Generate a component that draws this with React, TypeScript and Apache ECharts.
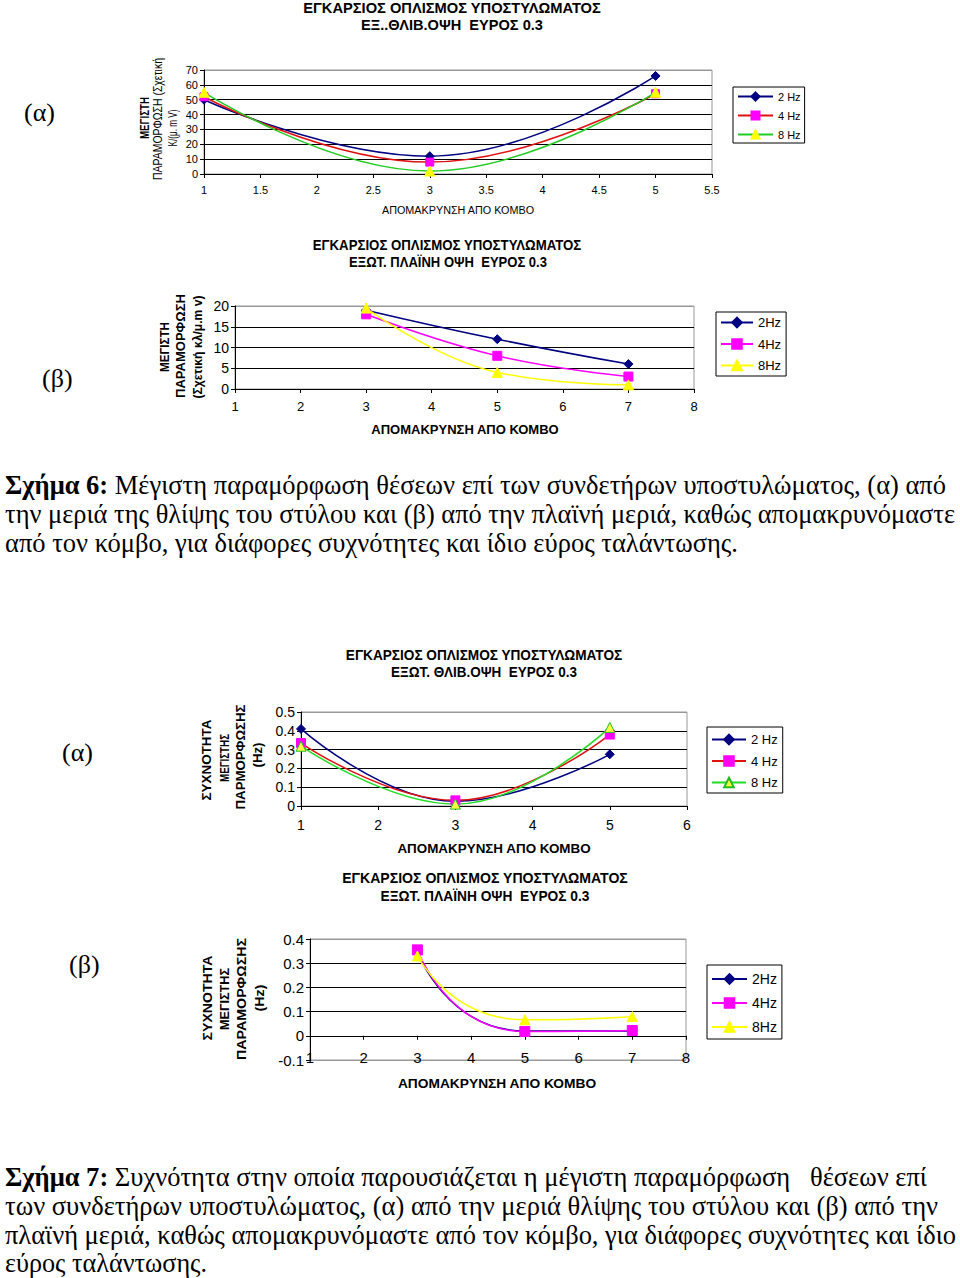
import React, { useEffect, useRef } from "react";
import * as echarts from "echarts";

// ---------------- data ----------------
const distA = [1, 3, 5];
const distB = [3, 5, 7];
const namesSp = ["2 Hz", "4 Hz", "8 Hz"];
const namesNs = ["2Hz", "4Hz", "8Hz"];

// Fig 6 (a): max deformation, compression side
const defA2 = [50, 12, 66];
const defA4 = [52, 8, 54];
const defA8 = [55, 2, 55];
// Fig 6 (b): max deformation, lateral side
const defB2 = [19, 12, 6];
const defB4 = [18, 8, 3];
const defB8 = [19.5, 4, 1];
// Fig 7 (a): frequency of max deformation, compression side
const frqA2 = [0.41, 0.025, 0.275];
const frqA4 = [0.335, 0.03, 0.38];
const frqA8 = [0.318, 0.01, 0.418];
// Fig 7 (b): frequency of max deformation, lateral side
const frqB2 = [0.345, 0.02, 0.02];
const frqB4 = [0.355, 0.018, 0.022];
const frqB8 = [0.33, 0.066, 0.08];

const titleMain = "ΕΓΚΑΡΣΙΟΣ ΟΠΛΙΣΜΟΣ ΥΠΟΣΤΥΛΩΜΑΤΟΣ";
const subA1 = "ΕΞ..ΘΛΙΒ.ΟΨΗ  ΕΥΡΟΣ 0.3";
const subB1 = "ΕΞΩΤ. ΠΛΑΪΝΗ ΟΨΗ  ΕΥΡΟΣ 0.3";
const subA2 = "ΕΞΩΤ. ΘΛΙΒ.ΟΨΗ  ΕΥΡΟΣ 0.3";
const subB2 = "ΕΞΩΤ. ΠΛΑΪΝΗ ΟΨΗ  ΕΥΡΟΣ 0.3";
const xTitle = "ΑΠΟΜΑΚΡΥΝΣΗ ΑΠΟ ΚΟΜΒΟ";

const cap6 = [
  ["Σχήμα 6:", " Μέγιστη παραμόρφωση θέσεων επί των συνδετήρων υποστυλώματος, (α) από"],
  ["", "την μεριά της θλίψης του στύλου και (β) από την πλαϊνή μεριά, καθώς απομακρυνόμαστε"],
  ["", "από τον κόμβο, για διάφορες συχνότητες και ίδιο εύρος ταλάντωσης."],
];
const cap7 = [
  ["Σχήμα 7:", " Συχνότητα στην οποία παρουσιάζεται η μέγιστη παραμόρφωση   θέσεων επί"],
  ["", "των συνδετήρων υποστυλώματος, (α) από την μεριά θλίψης του στύλου και (β) από την"],
  ["", "πλαϊνή μεριά, καθώς απομακρυνόμαστε από τον κόμβο, για διάφορες συχνότητες και ίδιο"],
  ["", "εύρος ταλάντωσης."],
];

// ---------------- helpers ----------------
const FONT = '"Liberation Sans", Arial, sans-serif';
const SERIF = '"Liberation Serif", "Times New Roman", serif';

let mctx: CanvasRenderingContext2D | null = null;
function textWidth(text: string, font: string): number {
  if (!mctx) mctx = document.createElement("canvas").getContext("2d");
  mctx!.font = font;
  return mctx!.measureText(text).width;
}

function fitText(text: string, cx: number, cy: number, target: number, size: number, bold: boolean, vertical = false) {
  const weight = bold ? "bold" : "normal";
  const w = textWidth(text, `${weight} ${size}px ${FONT}`);
  return {
    type: "text",
    x: cx,
    y: cy,
    rotation: vertical ? Math.PI / 2 : 0,
    scaleX: w > 0 ? target / w : 1,
    silent: true,
    style: {
      text,
      fill: "#000",
      fontSize: size,
      fontWeight: weight,
      fontFamily: FONT,
      textAlign: "center",
      textVerticalAlign: "middle",
    },
  };
}

function mkLine(name: string, xs: number[], ys: number[], lineColor: string, markColor: string, symbol: string, size: number, smooth = 0.45, border?: string) {
  return {
    type: "line",
    name,
    data: xs.map((x, i) => [x, ys[i]]),
    smooth,
    symbol,
    symbolSize: size,
    lineStyle: { color: lineColor, width: 1.5 },
    itemStyle: { color: markColor, borderColor: border ?? markColor, borderWidth: 1 },
    emphasis: { disabled: true },
  };
}

function mkX(min: number, max: number, interval: number, fontSize: number, margin: number, offset = 0) {
  return {
    type: "value",
    min,
    max,
    interval,
    offset,
    axisLine: { show: true, onZero: false, lineStyle: { color: "#000", width: 1 } },
    axisTick: { show: true, length: 4, lineStyle: { color: "#000" } },
    axisLabel: { fontSize, color: "#000", fontFamily: FONT, margin },
    splitLine: { show: false },
  };
}

function mkY(min: number, max: number, interval: number, fontSize: number, colors: string[]) {
  return {
    type: "value",
    min,
    max,
    interval,
    axisLine: { show: true, onZero: false, lineStyle: { color: "#000", width: 1 } },
    axisTick: { show: true, length: 4, lineStyle: { color: "#000" } },
    axisLabel: { fontSize, color: "#000", fontFamily: FONT, margin: 6 },
    splitLine: { show: true, lineStyle: { color: colors, width: 1 } },
  };
}

function mkLegend(left: number, top: number, iw: number, ih: number, gap: number, pad: number[], fs: number) {
  return {
    orient: "vertical",
    left,
    top,
    itemWidth: iw,
    itemHeight: ih,
    itemGap: gap,
    padding: pad,
    borderColor: "#000",
    borderWidth: 1,
    backgroundColor: "#fff",
    textStyle: { fontSize: fs, color: "#000", fontFamily: FONT },
    selectedMode: false,
  };
}

const gridBase = { show: true, borderColor: "#999", borderWidth: 1, backgroundColor: "transparent" };

function option1() {
  return {
    animation: false,
    grid: { ...gridBase, left: 204, top: 70, width: 508, height: 104 },
    xAxis: mkX(1, 5.5, 0.5, 11, 10),
    yAxis: mkY(0, 70, 10, 11, ["#000", "#000", "#000", "#000", "#000", "#000", "#000", "#999"]),
    legend: { ...mkLegend(733, 87, 35, 10, 8, [4, 4, 3, 4], 11), data: namesSp },
    series: [
      mkLine(namesSp[0], distA, defA2, "#000080", "#000080", "diamond", 9),
      mkLine(namesSp[1], distA, defA4, "#e01010", "#ff00ff", "rect", 8),
      mkLine(namesSp[2], distA, defA8, "#22cc22", "#ffff00", "triangle", 10),
    ],
    graphic: [
      fitText(titleMain, 452, 8, 298, 15, true),
      fitText(subA1, 452, 25, 182, 15, true),
      fitText(xTitle, 458, 210, 153, 11, false),
      fitText("ΜΕΓΙΣΤΗ", 145, 118, 42, 12, true, true),
      fitText("ΠΑΡΑΜΟΡΦΩΣΗ (Σχετική", 158, 119, 122, 12, false, true),
      fitText("Κ/(μ. m V)", 173, 128, 37, 12, false, true),
    ],
  };
}

function option2() {
  return {
    animation: false,
    grid: { ...gridBase, left: 235, top: 306, width: 459, height: 83 },
    xAxis: mkX(1, 8, 1, 13, 11),
    yAxis: mkY(0, 20, 5, 14, ["#000", "#000", "#000", "#000", "#999"]),
    legend: { ...mkLegend(716, 312, 32, 12, 8.5, [4, 5, 4, 4], 13), data: namesNs },
    series: [
      mkLine(namesNs[0], distB, defB2, "#000080", "#000080", "diamond", 9),
      mkLine(namesNs[1], distB, defB4, "#ff00ff", "#ff00ff", "rect", 9),
      mkLine(namesNs[2], distB, defB8, "#ffff00", "#ffff00", "triangle", 10),
    ],
    graphic: [
      fitText(titleMain, 447, 245, 269, 14, true),
      fitText(subB1, 448, 262, 198, 14, true),
      fitText(xTitle, 465, 430, 188, 13, true),
      fitText("ΜΕΓΙΣΤΗ", 165, 347, 50, 13, true, true),
      fitText("ΠΑΡΑΜΟΡΦΩΣΗ", 181, 346, 104, 13, true, true),
      fitText("(Σχετική κλ/μ.m v)", 198, 347, 103, 13, true, true),
    ],
  };
}

function option3() {
  return {
    animation: false,
    grid: { ...gridBase, left: 301, top: 712, width: 386, height: 94 },
    xAxis: mkX(1, 6, 1, 14, 12),
    yAxis: mkY(0, 0.5, 0.1, 14, ["#000", "#000", "#000", "#000", "#000", "#999"]),
    legend: { ...mkLegend(707, 727, 34, 12, 8.5, [6, 5, 4, 4], 13), data: namesSp },
    series: [
      mkLine(namesSp[0], distA, frqA2, "#000080", "#000080", "diamond", 9),
      mkLine(namesSp[1], distA, frqA4, "#e01010", "#ff00ff", "rect", 9),
      mkLine(namesSp[2], distA, frqA8, "#22dd22", "#ffff44", "triangle", 10, 0.45, "#22bb22"),
    ],
    graphic: [
      fitText(titleMain, 484, 655, 277, 14, true),
      fitText(subA2, 484, 672, 186, 14, true),
      fitText(xTitle, 494, 849, 194, 13, true),
      fitText("ΣΥΧΝΟΤΗΤΑ", 207, 760, 81, 13, true, true),
      fitText("ΜΕΓΙΣΤΗΣ", 224, 758, 48, 13, true, true),
      fitText("ΠΑΡΜΟΡΦΩΣΗΣ", 241, 757, 105, 13, true, true),
      fitText("(Hz)", 258, 755, 25, 13, true, true),
    ],
  };
}

// grid of chart (β) in Fig 7: y from -0.1 to 0.4 over 121 px; x axis drawn at y = 0
const g4Height = 121;
const zeroOffset = -(g4Height * 0.1) / 0.5;

function option4() {
  return {
    animation: false,
    grid: { ...gridBase, left: 310, top: 939, width: 376, height: g4Height },
    xAxis: mkX(1, 8, 1, 15, 14, zeroOffset),
    yAxis: mkY(-0.1, 0.4, 0.1, 15, ["#999", "#000", "#000", "#000", "#000", "#999"]),
    legend: { ...mkLegend(707, 965, 35, 12, 10, [7, 5, 5, 4], 14), data: namesNs },
    series: [
      mkLine(namesNs[0], distB, frqB2, "#000080", "#000080", "diamond", 9, 0.65),
      mkLine(namesNs[1], distB, frqB4, "#ff00ff", "#ff00ff", "rect", 10, 0.65),
      mkLine(namesNs[2], distB, frqB8, "#ffff00", "#ffff00", "triangle", 10, 0.65),
    ],
    graphic: [
      fitText(titleMain, 485, 878, 286, 14, true),
      fitText(subB2, 485, 896, 209, 14, true),
      fitText(xTitle, 497, 1084, 199, 13, true),
      fitText("ΣΥΧΝΟΤΗΤΑ", 208, 998, 85, 13, true, true),
      fitText("ΜΕΓΙΣΤΗΣ", 224, 999, 62, 13, true, true),
      fitText("ΠΑΡΑΜΟΡΦΩΣΗΣ", 242, 999, 122, 13, true, true),
      fitText("(Hz)", 260, 998, 27, 13, true, true),
    ],
  };
}

function ChartLayer({ make }: { make: () => any }) {
  const ref = useRef<HTMLDivElement | null>(null);
  useEffect(() => {
    if (!ref.current) return;
    const chart = echarts.init(ref.current, undefined, { renderer: "svg" });
    chart.setOption(make());
    return () => chart.dispose();
  }, [make]);
  return <div ref={ref} style={{ position: "absolute", left: 0, top: 0, width: 960, height: 1278 }} />;
}

function CaptionLine({ bold, rest, top, target }: { bold: string; rest: string; top: number; target: number }) {
  const size = 27;
  const wb = bold ? textWidth(bold, `bold ${size}px ${SERIF}`) : 0;
  const wr = textWidth(rest, `normal ${size}px ${SERIF}`);
  const sc = target / (wb + wr);
  return (
    <div
      style={{
        position: "absolute",
        left: 5,
        top: top - 16,
        height: 32,
        lineHeight: "32px",
        whiteSpace: "pre",
        fontFamily: SERIF,
        fontSize: size,
        color: "#000",
        transform: `scaleX(${sc})`,
        transformOrigin: "0 0",
      }}
    >
      {bold ? <b>{bold}</b> : null}
      {rest}
    </div>
  );
}

function Tag({ text, left, top }: { text: string; left: number; top: number }) {
  return (
    <div style={{ position: "absolute", left, top: top - 15, height: 30, lineHeight: "30px", fontFamily: SERIF, fontSize: 26, color: "#000" }}>
      {text}
    </div>
  );
}

const cap6Tops = [485, 514, 543];
const cap6Widths = [941, 950, 733];
const cap7Tops = [1177, 1206, 1235, 1263];
const cap7Widths = [922, 933, 951, 202];

export default function App() {
  return (
    <div style={{ position: "absolute", left: 0, top: 0, width: 960, height: 1278, overflow: "hidden", background: "#fff" }}>
      <Tag text="(α)" left={24} top={113} />
      <Tag text="(β)" left={42} top={379} />
      <Tag text="(α)" left={62} top={753} />
      <Tag text="(β)" left={69} top={965} />
      {cap6.map((l, i) => (
        <CaptionLine key={"c6" + i} bold={l[0]} rest={l[1]} top={cap6Tops[i]} target={cap6Widths[i]} />
      ))}
      {cap7.map((l, i) => (
        <CaptionLine key={"c7" + i} bold={l[0]} rest={l[1]} top={cap7Tops[i]} target={cap7Widths[i]} />
      ))}
      <ChartLayer make={option1} />
      <ChartLayer make={option2} />
      <ChartLayer make={option3} />
      <ChartLayer make={option4} />
    </div>
  );
}
